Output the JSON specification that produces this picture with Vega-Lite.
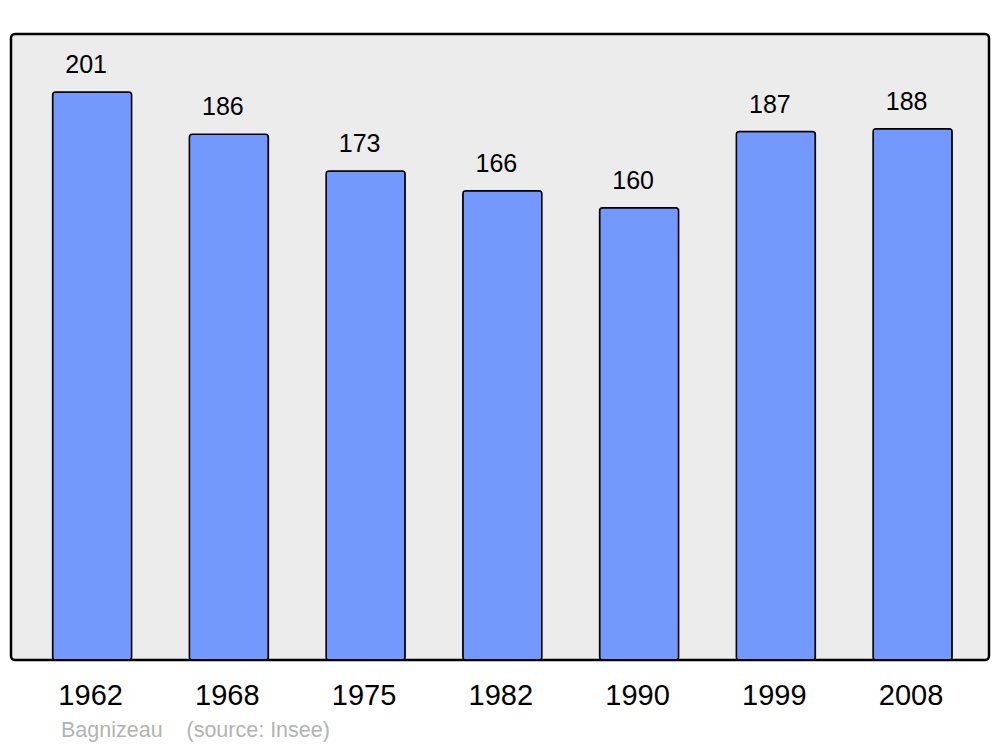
{
  "$schema": "https://vega.github.io/schema/vega-lite/v6.json",
  "autosize": "none",
  "width": 978,
  "height": 626,
  "padding": {"left": 11, "top": 34, "right": 11, "bottom": 87},
  "background": "white",
  "config": {
    "font": "Liberation Sans",
    "view": {"fill": "#ececec", "stroke": "#000000", "strokeWidth": 2.5, "cornerRadius": 4}
  },
  "title": {
    "text": "Bagnizeau\u00a0\u00a0\u00a0\u00a0(source: Insee)",
    "orient": "bottom",
    "anchor": "start",
    "fontSize": 21.5,
    "fontWeight": "normal",
    "color": "#b3b3b3",
    "font": "Liberation Sans",
    "dx": 50,
    "offset": 10,
    "frame": "group"
  },
  "data": {
    "values": [
      {"year": "1962", "population": 201},
      {"year": "1968", "population": 186},
      {"year": "1975", "population": 173},
      {"year": "1982", "population": 166},
      {"year": "1990", "population": 160},
      {"year": "1999", "population": 187},
      {"year": "2008", "population": 188}
    ]
  },
  "encoding": {
    "x": {
      "field": "year",
      "type": "nominal",
      "sort": null,
      "scale": {"paddingInner": 0.422, "paddingOuter": 0.287, "align": 0.53},
      "axis": {
        "title": null,
        "labelAngle": 0,
        "labelFontSize": 29,
        "labelColor": "#000000",
        "labelPadding": 21,
        "labelOffset": -1.5,
        "ticks": false,
        "domain": false,
        "grid": false
      }
    },
    "y": {
      "field": "population",
      "type": "quantitative",
      "scale": {"domain": [0, 221.5], "nice": false},
      "axis": null
    }
  },
  "layer": [
    {
      "mark": {"type": "bar", "fill": "#7399ff", "stroke": "#000000", "strokeWidth": 1.5, "cornerRadius": 3}
    },
    {
      "mark": {"type": "text", "fontSize": 25, "color": "#000000", "baseline": "bottom", "dy": -14, "dx": -6},
      "encoding": {"text": {"field": "population", "type": "quantitative"}}
    }
  ]
}
